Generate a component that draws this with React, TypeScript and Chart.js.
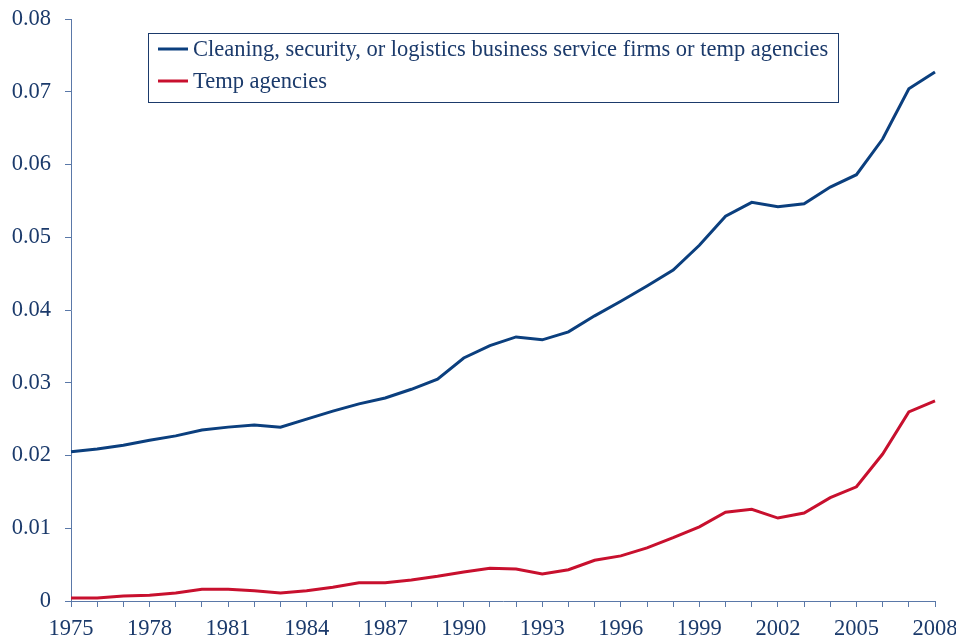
import React, { useEffect, useRef } from "react";
import { Chart, registerables } from "chart.js";

Chart.register(...registerables);

const years: string[] = [
  "1975","1976","1977","1978","1979","1980","1981","1982","1983","1984",
  "1985","1986","1987","1988","1989","1990","1991","1992","1993","1994",
  "1995","1996","1997","1998","1999","2000","2001","2002","2003","2004",
  "2005","2006","2007","2008",
];

const cleaningSecurityLogistics: number[] = [
  0.0205, 0.0209, 0.0214, 0.0221, 0.0227, 0.0235, 0.0239, 0.0242, 0.0239, 0.025,
  0.0261, 0.0271, 0.0279, 0.0291, 0.0305, 0.0334, 0.0351, 0.0363, 0.0359, 0.037,
  0.0392, 0.0412, 0.0433, 0.0455, 0.0489, 0.0529, 0.0548, 0.0542, 0.0546, 0.0569,
  0.0586, 0.0635, 0.0704, 0.0727,
];

const tempAgencies: number[] = [
  0.0004, 0.0004, 0.0007, 0.0008, 0.0011, 0.0016, 0.0016, 0.0014, 0.0011, 0.0014,
  0.0019, 0.0025, 0.0025, 0.0029, 0.0034, 0.004, 0.0045, 0.0044, 0.0037, 0.0043,
  0.0056, 0.0062, 0.0073, 0.0087, 0.0102, 0.0122, 0.0126, 0.0114, 0.0121, 0.0142,
  0.0157, 0.0202, 0.026, 0.0275,
];

const seriesLabels: string[] = [
  "Cleaning, security, or logistics business service firms or temp agencies",
  "Temp agencies",
];

const BLUE = "#0b3f7e";
const RED = "#c8102e";
const TEXT = "#1b3a6b";
const AXIS = "#5a78a8";
const FONT = "'Liberation Serif', 'Times New Roman', serif";
const FONT_SIZE = 22.5;

const legendBoxPlugin = {
  id: "legendBox",
  afterDraw(chart: any) {
    const ctx = chart.ctx;
    const x0 = 148.5, y0 = 33.5, w = 690, h = 69;
    ctx.save();
    ctx.fillStyle = "#ffffff";
    ctx.fillRect(x0, y0, w, h);
    ctx.strokeStyle = TEXT;
    ctx.lineWidth = 1;
    ctx.strokeRect(x0, y0, w, h);
    ctx.font = `${FONT_SIZE}px ${FONT}`;
    ctx.textBaseline = "middle";
    chart.data.datasets.forEach((ds: any, i: number) => {
      const y = 49 + i * 32;
      ctx.strokeStyle = ds.borderColor;
      ctx.lineWidth = 3;
      ctx.beginPath();
      ctx.moveTo(158, y);
      ctx.lineTo(188, y);
      ctx.stroke();
      ctx.fillStyle = TEXT;
      ctx.fillText(ds.label, 193, y + 1);
    });
    ctx.restore();
  },
};

export default function App() {
  const ref = useRef<HTMLCanvasElement | null>(null);
  useEffect(() => {
    if (!ref.current) return;
    const chart = new Chart(ref.current, {
      type: "line",
      data: {
        labels: years,
        datasets: [
          {
            label: seriesLabels[0],
            data: cleaningSecurityLogistics,
            borderColor: BLUE,
            backgroundColor: BLUE,
            borderWidth: 3,
            pointRadius: 0,
            tension: 0,
          },
          {
            label: seriesLabels[1],
            data: tempAgencies,
            borderColor: RED,
            backgroundColor: RED,
            borderWidth: 3,
            pointRadius: 0,
            tension: 0,
          },
        ],
      },
      options: {
        animation: false,
        responsive: false,
        maintainAspectRatio: false,
        layout: { padding: { left: 0, right: 21, top: 19, bottom: 0 } },
        plugins: {
          legend: { display: false },
          tooltip: { enabled: false },
        },
        scales: {
          x: {
            type: "category",
            offset: false,
            border: { display: true, color: AXIS, width: 1 },
            grid: { display: true, drawOnChartArea: false, drawTicks: true, tickLength: 6, color: AXIS },
            ticks: {
              autoSkip: false,
              maxRotation: 0,
              color: TEXT,
              padding: 9,
              font: { family: FONT, size: FONT_SIZE },
              callback: (_v: any, i: number) => (i % 3 === 0 ? years[i] : ""),
            },
            afterFit: (scale: any) => {
              scale.height = 38;
              scale.paddingLeft = 0;
              scale.paddingRight = 0;
            },
          },
          y: {
            min: 0,
            max: 0.08,
            border: { display: true, color: AXIS, width: 1 },
            grid: { display: true, drawOnChartArea: false, drawTicks: true, tickLength: 6, color: AXIS },
            ticks: {
              stepSize: 0.01,
              color: TEXT,
              padding: 14,
              font: { family: FONT, size: FONT_SIZE },
              callback: (v: any) => {
                const n = Number(v);
                return n === 0 ? "0" : n.toFixed(2);
              },
            },
            afterFit: (scale: any) => {
              scale.width = 71;
              scale.paddingTop = 0;
              scale.paddingBottom = 0;
            },
          },
        },
      },
      plugins: [legendBoxPlugin],
    });
    return () => chart.destroy();
  }, []);
  return (
    <div style={{ position: "fixed", left: 0, top: 0, width: 956, height: 639, background: "#fff" }}>
      <canvas ref={ref} width={956} height={639} style={{ width: 956, height: 639 }} />
    </div>
  );
}
